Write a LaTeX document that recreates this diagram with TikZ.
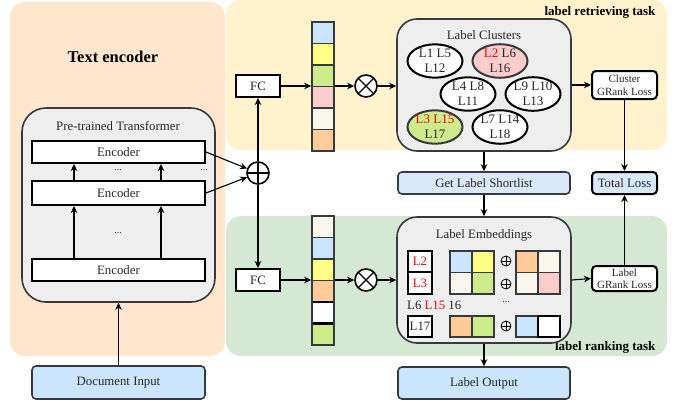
\documentclass[tikz,border=0pt]{standalone}
\usepackage{fontspec}
\setmainfont{Liberation Serif}
\usetikzlibrary{arrows.meta,shapes.geometric,calc}
\definecolor{peach}{HTML}{FFE6CC}
\definecolor{cream}{HTML}{FFF2CC}
\definecolor{sage}{HTML}{D5E8D4}
\definecolor{panel}{HTML}{EEEEEE}
\definecolor{dk}{HTML}{36393D}
\definecolor{cblue}{HTML}{CCE5FF}
\definecolor{lblue}{HTML}{DAE8FC}
\definecolor{cyel}{HTML}{FFFF88}
\definecolor{cgreen}{HTML}{CDEB8B}
\definecolor{cpink}{HTML}{FFCCCC}
\definecolor{coff}{HTML}{F9F7ED}
\definecolor{corange}{HTML}{FFCC99}
\definecolor{lred}{HTML}{FF0000}
\tikzset{
  every node/.style={font=\fontsize{12.8}{15}\selectfont, text=black!85},
  arr/.style={-{Stealth[length=7pt,width=6.5pt]}, line width=1.1pt, black},
  gbox/.style={draw=dk, fill=panel, line width=1.6pt, rounded corners=20pt, inner sep=0},
  encbox/.style={draw=black, fill=white, line width=2pt, inner sep=0, minimum width=173},
  fcbox/.style={draw=black, fill=white, line width=2pt, inner sep=0, minimum width=44, minimum height=22},
  bbox/.style={draw=dk, line width=1.6pt, rounded corners=4pt, inner sep=0},
  lossbox/.style={draw=black, fill=white, line width=2pt, rounded corners=4pt, inner sep=0,
     minimum width=65, align=center, font=\fontsize{11}{12.5}\selectfont},
  clu/.style={ellipse, draw=black, fill=white, line width=2pt, inner sep=0, minimum width=55,
     minimum height=32, align=center, font=\fontsize{13}{15}\selectfont},
  opcirc/.style={circle, draw=black, fill=white, line width=1.6pt, minimum size=22, inner sep=0},
  cellst/.style={draw=dk, line width=1.6pt},
  lbox/.style={draw=black, fill=white, line width=2pt, inner sep=0, minimum width=24},
  ttl/.style={font=\fontsize{13}{15}\selectfont\bfseries, text=black},
}
\newcommand\smallop[2]{%
  \draw[line width=0.8pt, black] (#1,#2) circle (5);
  \draw[line width=0.8pt, black] (#1-5,#2) -- (#1+5,#2) (#1,#2-5) -- (#1,#2+5);}
\begin{document}
\begin{tikzpicture}[x=1pt,y=-1pt]
\useasboundingbox (0,0) rectangle (678,405);
% regions
\fill[peach, rounded corners=15] (10,2) rectangle (225,356);
\fill[cream, rounded corners=15] (226,0) rectangle (667,150);
\fill[sage, rounded corners=15] (226,216) rectangle (667,356);
\node[font=\fontsize{16.5}{20}\selectfont\bfseries, text=black] (tetitle) at (113,57) {Text encoder};
\node[ttl, anchor=east] (rettitle) at (659,12) {label retrieving task};
\node[ttl, anchor=east] (ranktitle) at (659,347) {label ranking task};

% text encoder
\node[gbox, rounded corners=24pt, minimum width=193, minimum height=194] (ptr) at (118.5,205) {};
\node (ptrt) at (118,126) {Pre-trained Transformer};
\node[encbox, minimum height=22] (e3) at (118.5,152) {Encoder};
\node[encbox, minimum height=24] (e2) at (118.5,193) {Encoder};
\node[encbox, minimum height=22] (e1) at (118.5,270) {Encoder};
\draw[arr] ($(e2.north west)+(43,0)$) -- ($(e3.south west)+(43,0)$);
\draw[arr] ($(e2.north west)+(130,0)$) -- ($(e3.south west)+(130,0)$);
\draw[arr] ($(e1.north west)+(43,0)$) -- ($(e2.south west)+(43,0)$);
\draw[arr] ($(e1.north west)+(130,0)$) -- ($(e2.south west)+(130,0)$);
\node[font=\fontsize{10}{12}\selectfont] (d1) at (118,170) {...};
\node[font=\fontsize{10}{12}\selectfont] (d2) at (118,233) {...};
\node[font=\fontsize{10}{12}\selectfont] (d3) at (204,170) {...};
\node[bbox, fill=cblue, minimum width=173, minimum height=33] (doc) at (118.5,382.5) {Document Input};
\draw[arr] (doc.north) -- (ptr.south);

% oplus and FC
\node[opcirc, path picture={\draw[line width=1.4pt] (path picture bounding box.north) -- (path picture bounding box.south)
  (path picture bounding box.west) -- (path picture bounding box.east);}] (op) at (258,173) {};
\draw[arr] (e3.east) -- (op);
\draw[arr] (e2.east) -- (op);
\node[fcbox] (fc1) at (258,86) {FC};
\node[fcbox] (fc2) at (258,280) {FC};
\draw[arr] (op.north) -- (fc1.south);
\draw[arr] (op.south) -- (fc2.north);

% columns
\foreach \c [count=\i from 0] in {cblue,cyel,cgreen,cpink,coff,corange}
  \filldraw[cellst, fill=\c] (312,{22+\i*21.5}) rectangle ++(22,21.5);
\node[draw=dk, line width=1.6pt, minimum width=22, minimum height=129, inner sep=0] (col1) at (323,86.5) {};
\foreach \c [count=\i from 0] in {coff,cblue,cyel,corange,white,cgreen}
  \filldraw[cellst, fill=\c] (312,{216+\i*21.5}) rectangle ++(22,21.5);
\draw[black, line width=2.2pt] (312,302) rectangle ++(22,21.5);
\node[draw=dk, line width=1.6pt, minimum width=22, minimum height=129, inner sep=0] (col2) at (323,280.5) {};

\node[opcirc, path picture={\draw[line width=1.4pt] (path picture bounding box.north west) -- (path picture bounding box.south east)
  (path picture bounding box.south west) -- (path picture bounding box.north east);}] (ot1) at (366,86) {};
\node[opcirc, path picture={\draw[line width=1.4pt] (path picture bounding box.north west) -- (path picture bounding box.south east)
  (path picture bounding box.south west) -- (path picture bounding box.north east);}] (ot2) at (366,280) {};

\draw[arr] (fc1.east) -- (fc1.east -| col1.west);
\draw[arr] (col1.east |- ot1) -- (ot1.west);
\draw[arr] (fc2.east) -- (fc2.east -| col2.west);
\draw[arr] (col2.east |- ot2) -- (ot2.west);

% label clusters
\node[gbox, minimum width=174, minimum height=132] (lc) at (484,85) {};
\node (lct) at (484,35) {Label Clusters};
\node[clu] (k1) at (435,61) {L1 L5\\L12};
\node[clu, fill=cpink, draw=dk] (k2) at (500,61) {\textcolor{lred}{L2} L6\\L16};
\node[clu] (k3) at (468,94) {L4 L8\\L11};
\node[clu] (k4) at (533,94) {L9 L10\\L13};
\node[clu, fill=cgreen, draw=dk] (k5) at (435,127) {\textcolor{lred}{L3 L15}\\L17};
\node[clu] (k6) at (500,127) {L7 L14\\L18};
\draw[arr] (ot1.east) -- (ot1.east -| lc.west);

\node[lossbox, minimum height=28] (cg) at (624.5,85) {Cluster\\GRank Loss};
\draw[arr] (lc.east |- cg) -- (cg.west);
\node[bbox, fill=lblue, minimum width=172, minimum height=22] (gs) at (484,183) {Get Label Shortlist};
\node[bbox, fill=lblue, draw=black, line width=2pt, minimum width=65, minimum height=22] (tl) at (624.5,183) {Total Loss};
\draw[arr] (lc.south) -- (gs.north);
\draw[arr] (cg.south) -- (tl.north);

% label embeddings
\node[gbox, minimum width=174, minimum height=126] (le) at (484,280) {};
\node (let) at (484,235) {Label Embeddings};
\draw[arr] (gs.south) -- (le.north);
\draw[arr] (ot2.east) -- (ot2.east -| le.west);
\node[lossbox, minimum height=25] (lg) at (624.5,278.5) {Label\\GRank Loss};
\draw[arr] (le.east) -- (lg.west);
\draw[arr] (lg.north) -- (tl.south);
\node[bbox, fill=cblue, minimum width=172, minimum height=32] (lo) at (484,383) {Label Output};
\draw[arr] (le.south) -- (lo.north);

\node[lbox, minimum height=21.5] (b2) at (420,261.5) {\textcolor{lred}{L2}};
\node[lbox, minimum height=21.5] (b3) at (420,283) {\textcolor{lred}{L3}};
\node[lbox, minimum height=21] (b17) at (420,326.5) {L17};
\node[anchor=west, inner sep=0] (l6) at (407,305) {L6 \textcolor{lred}{L15} 16};
\node[font=\fontsize{10}{12}\selectfont] (d4) at (506,302) {...};

\filldraw[cellst, fill=cblue] (450,251) rectangle ++(22,21.5);
\filldraw[cellst, fill=cyel] (472,251) rectangle ++(22,21.5);
\filldraw[cellst, fill=coff] (450,272.5) rectangle ++(22,21.5);
\filldraw[cellst, fill=cgreen] (472,272.5) rectangle ++(22,21.5);
\filldraw[cellst, fill=corange] (516,251) rectangle ++(22,21.5);
\filldraw[cellst, fill=coff] (538,251) rectangle ++(22,21.5);
\filldraw[cellst, fill=coff] (516,272.5) rectangle ++(22,21.5);
\filldraw[cellst, fill=cpink] (538,272.5) rectangle ++(22,21.5);
\filldraw[cellst, fill=corange] (450,316) rectangle ++(22,21);
\filldraw[cellst, fill=cgreen] (472,316) rectangle ++(22,21);
\filldraw[cellst, fill=cblue] (516,316) rectangle ++(22,21);
\filldraw[black, line width=2pt, fill=white] (538,316) rectangle ++(22,21);
\smallop{506}{261}
\smallop{506}{284}
\smallop{506}{326}
\end{tikzpicture}
\end{document}
